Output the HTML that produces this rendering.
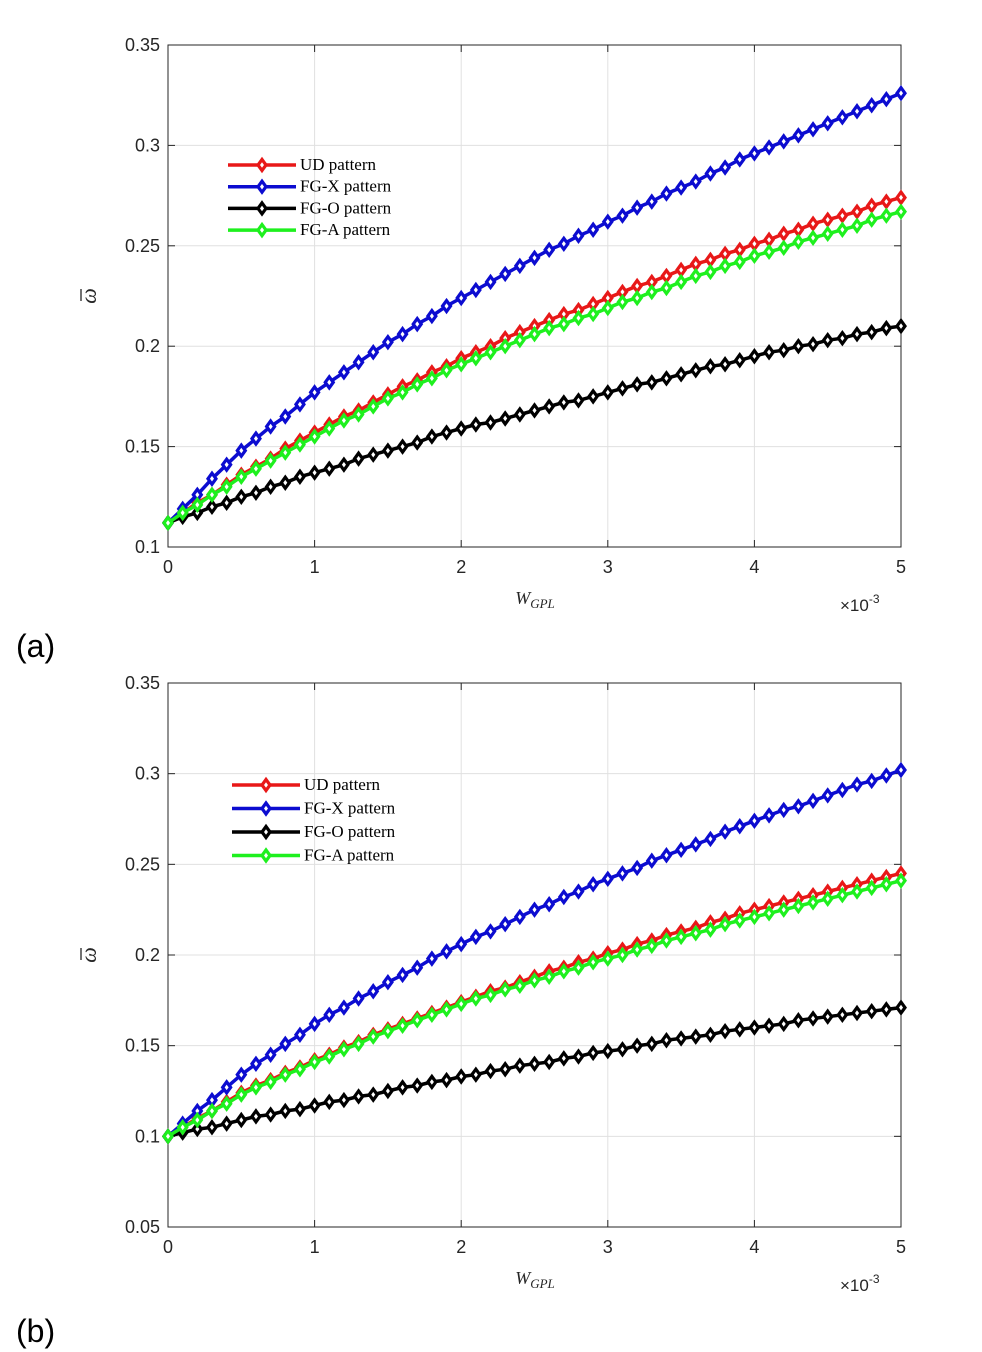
<!DOCTYPE html>
<html><head><meta charset="utf-8"><style>
body{margin:0;background:#fff;}
svg{display:block;font-family:"Liberation Sans",sans-serif;}
</style></head><body>
<svg id="fig" width="982" height="1352" viewBox="0 0 982 1352" xmlns="http://www.w3.org/2000/svg"></svg>
<script>
const xStep = 0.1; // x in units of 1e-3, 51 samples 0..5
const xTicks = [0,1,2,3,4,5];
const yTicksA = [0.1,0.15,0.2,0.25,0.3,0.35];
const yTicksB = [0.05,0.1,0.15,0.2,0.25,0.3,0.35];
const seriesNames = ["UD pattern","FG-X pattern","FG-O pattern","FG-A pattern"];
const seriesColors = ["#e81818","#0c0cd0","#000000","#1ef01e"];

const udA = [.112,.117,.122,.126,.131,.136,.140,.144,.149,.153,.157,.161,.165,.168,.172,.176,.180,.183,.187,.190,.194,.197,.200,.204,.207,.210,.213,.216,.218,.221,.224,.227,.230,.232,.235,.238,.241,.243,.246,.248,.251,.253,.256,.258,.261,.263,.265,.267,.270,.272,.274];
const fgxA = [.112,.119,.126,.134,.141,.148,.154,.160,.165,.171,.177,.182,.187,.192,.197,.202,.206,.211,.215,.220,.224,.228,.232,.236,.240,.244,.248,.251,.255,.258,.262,.265,.269,.272,.276,.279,.282,.286,.289,.293,.296,.299,.302,.305,.308,.311,.314,.317,.320,.323,.326];
const fgoA = [.112,.115,.117,.120,.122,.125,.127,.130,.132,.135,.137,.139,.141,.144,.146,.148,.150,.152,.155,.157,.159,.161,.162,.164,.166,.168,.170,.172,.173,.175,.177,.179,.181,.182,.184,.186,.188,.190,.191,.193,.195,.197,.198,.200,.201,.203,.204,.206,.207,.209,.210];
const fgaA = [.112,.117,.121,.126,.130,.135,.139,.143,.147,.151,.155,.159,.163,.166,.170,.174,.177,.181,.184,.188,.191,.194,.197,.200,.203,.206,.209,.211,.214,.216,.219,.222,.224,.227,.229,.232,.235,.237,.240,.242,.245,.247,.249,.252,.254,.256,.258,.260,.263,.265,.267];

const udB = [.100,.105,.110,.114,.119,.124,.128,.131,.135,.138,.142,.145,.149,.152,.156,.159,.162,.165,.168,.171,.174,.177,.180,.182,.185,.188,.191,.193,.196,.198,.201,.203,.206,.208,.211,.213,.215,.218,.220,.223,.225,.227,.229,.231,.233,.235,.237,.239,.241,.243,.245];
const fgxB = [.100,.107,.114,.120,.127,.134,.140,.145,.151,.156,.162,.167,.171,.176,.180,.185,.189,.193,.198,.202,.206,.210,.213,.217,.221,.225,.228,.232,.235,.239,.242,.245,.248,.252,.255,.258,.261,.264,.268,.271,.274,.277,.280,.282,.285,.288,.291,.294,.296,.299,.302];
const fgoB = [.100,.102,.104,.105,.107,.109,.111,.112,.114,.115,.117,.119,.120,.122,.123,.125,.127,.128,.130,.131,.133,.134,.136,.137,.139,.140,.141,.143,.144,.146,.147,.148,.150,.151,.153,.154,.155,.156,.158,.159,.160,.161,.162,.164,.165,.166,.167,.168,.169,.170,.171];
const fgaB = [.100,.105,.109,.114,.118,.123,.127,.130,.134,.137,.141,.144,.148,.151,.155,.158,.161,.164,.167,.170,.173,.176,.178,.181,.183,.186,.188,.191,.193,.196,.198,.200,.203,.205,.208,.210,.212,.214,.217,.219,.221,.223,.225,.227,.229,.231,.233,.235,.237,.239,.241];

const NS="http://www.w3.org/2000/svg";
const svg=document.getElementById('fig');
function mk(tag,attrs,parent,text){const e=document.createElementNS(NS,tag);for(const k in attrs)e.setAttribute(k,attrs[k]);if(text!==undefined)e.textContent=text;(parent||svg).appendChild(e);return e;}
function diamond(x,y){return `M${x},${y-5.5}L${x+4},${y}L${x},${y+5.5}L${x-4},${y}Z`;}

function drawPanel(cfg){
  const g=mk('g',{});
  
  
  const X0=168,X1=901,Y0=cfg.yBot,Y1=cfg.yTop;
  const sx=v=>X0+(v-0)/(5-0)*(X1-X0);
  const sy=v=>Y0-(v-cfg.ymin)/(cfg.ymax-cfg.ymin)*(Y0-Y1);
  xTicks.forEach(t=>{const l=mk('line',{x1:sx(t),x2:sx(t),y1:Y1,y2:Y0,stroke:'#e0e0e0','stroke-width':1},g);});
  cfg.yTicks.forEach(t=>{const l=mk('line',{x1:X0,x2:X1,y1:sy(t),y2:sy(t),stroke:'#e0e0e0','stroke-width':1},g);});
  const b=mk('rect',{x:X0,y:Y1,width:X1-X0,height:Y0-Y1,fill:'none',stroke:'#262626','stroke-width':1},g);
  
  xTicks.forEach(t=>{
    mk('line',{x1:sx(t),x2:sx(t),y1:Y0,y2:Y0-7,stroke:'#262626'},g);
    mk('line',{x1:sx(t),x2:sx(t),y1:Y1,y2:Y1+7,stroke:'#262626'},g);
    const tx=mk('text',{x:sx(t),y:Y0+26,'font-size':18,'text-anchor':'middle',fill:'#262626'},g,String(t));
    
  });
  cfg.yTicks.forEach(t=>{
    mk('line',{x1:X0,x2:X0+7,y1:sy(t),y2:sy(t),stroke:'#262626'},g);
    mk('line',{x1:X1,x2:X1-7,y1:sy(t),y2:sy(t),stroke:'#262626'},g);
    const ty=mk('text',{x:X0-8,y:sy(t)+6,'font-size':18,'text-anchor':'end',fill:'#262626'},g,String(t));
    
  });
  [0,1,2,3].forEach(i=>{
    const data=cfg.series[i];const col=seriesColors[i];
    const pts=data.map((v,k)=>sx(k*xStep).toFixed(1)+','+sy(v).toFixed(1)).join(' ');
    const pl=mk('polyline',{points:pts,fill:'none',stroke:col,'stroke-width':3.5},g);
    
    
    data.forEach((v,k)=>{
      const m=mk('path',{d:diamond(sx(k*xStep),sy(v)),fill:'#fff',stroke:col,'stroke-width':3.2},g);
      
      
    });
  });
  const lg=mk('g',{},g);
  
  
  seriesNames.forEach((n,i)=>{
    const y=cfg.legY+i*cfg.legDy, col=seriesColors[i];
    const e=mk('g',{},lg);
    
    
    mk('line',{x1:cfg.legX,x2:cfg.legX+68,y1:y,y2:y,stroke:col,'stroke-width':3.5},e);
    mk('path',{d:diamond(cfg.legX+34,y),fill:'#fff',stroke:col,'stroke-width':3.2},e);
    mk('text',{x:cfg.legX+72,y:y+5,'font-size':17,'font-family':'Liberation Serif,serif',fill:'#000'},e,n);
  });
  const xl=mk('text',{x:535,y:Y0+57,'font-size':18,'font-family':'Liberation Serif,serif','font-style':'italic',fill:'#262626','text-anchor':'middle'},g);
  
  mk('tspan',{},xl,'W');mk('tspan',{'font-size':13,dy:4},xl,'GPL');
  const ex=mk('text',{x:840,y:Y0+64,'font-size':17,fill:'#262626'},g);
  
  mk('tspan',{},ex,'×10');mk('tspan',{'font-size':12,dy:-8},ex,'-3');
  const cy=(Y0+Y1)/2;
  const yg=mk('g',{transform:`translate(96,${cy}) rotate(-90)`},g);
  
  mk('text',{x:0,y:0,'font-size':22,'font-family':'Liberation Serif,serif','font-style':'italic',fill:'#262626','text-anchor':'middle'},yg,'ω');
  mk('line',{x1:-5,x2:7,y1:-15,y2:-15,stroke:'#262626','stroke-width':1.3},yg);
  const pl=mk('text',{x:16,y:cfg.panelY,'font-size':32,fill:'#000'},g,cfg.panel);
  
}
drawPanel({name:'chart-a',yTop:45,yBot:547,ymin:0.1,ymax:0.35,yTicks:yTicksA,series:[udA,fgxA,fgoA,fgaA],legX:228,legY:165,legDy:21.7,panel:'(a)',panelY:657});
drawPanel({name:'chart-b',yTop:683,yBot:1227,ymin:0.05,ymax:0.35,yTicks:yTicksB,series:[udB,fgxB,fgoB,fgaB],legX:232,legY:785,legDy:23.5,panel:'(b)',panelY:1342});
</script>
</body></html>
